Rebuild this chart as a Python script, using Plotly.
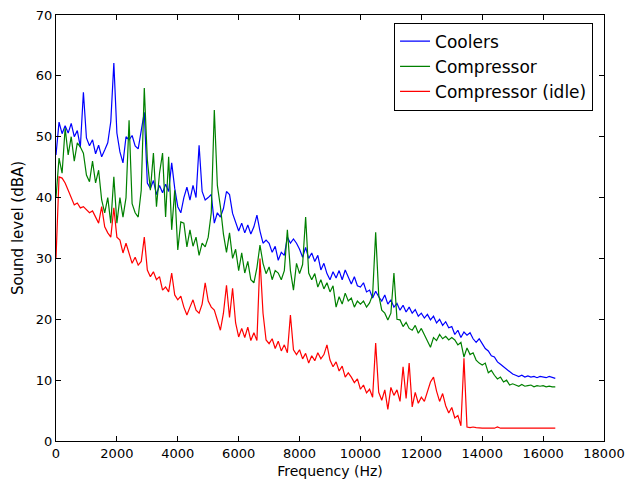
import plotly.graph_objects as go

# Frequency grid (Hz), one sample every 100 Hz from 0 to 16400
freq_step = 100
n_points = 165
frequency = [i * freq_step for i in range(n_points)]

coolers = [
    47, 52.4, 50.5, 51.8, 50.6, 52.2, 50, 51, 48.3, 57.3,
    49.8, 48.5, 49.5, 47.2, 48.6, 46.7, 47.8, 49, 52.5, 62.1,
    50.6, 47.5, 45.7, 50, 49.5, 50.2, 48.5, 48, 51, 54,
    42.4, 41.5, 42.8, 40.5, 42, 40.8, 42.2, 41, 45.7, 41.5,
    38.5, 37.5, 40, 41.7, 39.6, 42, 40, 48.6, 41, 39.6,
    40, 40.5, 35.8, 37.5, 36.8, 38.2, 41, 40.5, 37.4, 35.8,
    34.5, 35.8, 34.2, 35.5, 34, 35.2, 37.1, 34.5, 32.5, 33,
    32.5, 31, 32, 29.7, 31, 30.5, 33.5, 32.5, 33.2, 32.5,
    31.5, 30.2, 31.8, 30, 30.9, 29.5, 30.5, 28.1, 29.2, 27.5,
    26.5, 27.8, 26.8, 28, 26.5, 28.1, 27, 25.8, 27, 25.5,
    25.3, 26, 24.5, 24.8, 23.5, 24.6, 23.7, 23, 24, 22.5,
    23.2, 22, 22.6, 21.5, 22.3, 21.2, 22, 21, 21.6, 20.5,
    21, 20.2, 20.8, 19.9, 20.5, 19.4, 20, 19, 19.6, 18.6,
    18.8, 17.5, 18.2, 17, 17.9, 17.4, 17.8, 16.8, 16.2, 16.8,
    16, 15.2, 14.8, 14, 13.8, 13, 12.6, 12.2, 11.8, 11.4,
    11, 10.8, 10.6, 10.8, 10.5, 10.7, 10.5, 10.6, 10.4, 10.6,
    10.5, 10.4, 10.6, 10.4, 10.3,
]

compressor = [
    40, 46.5, 44, 51.4, 47, 50, 46, 49, 48.3, 47.3,
    43.7, 42.6, 46, 42.4, 44.5, 39.6, 37.5, 40, 35.8, 43.4,
    35.8, 40, 36.8, 40, 52.7, 39, 37.5, 36.8, 41.2, 58,
    46.2, 41.2, 47.3, 38.5, 44, 47.3, 36.8, 46.7, 34.7, 41.2,
    31.4, 36, 35.8, 31.9, 34.7, 32, 33.5, 30.5, 32.5, 31.9,
    33.5, 37.5, 54.4, 42, 38.5, 34, 31, 34.2, 30, 31.5,
    28, 30.9, 27.6, 29.5, 26.5, 26, 28.5, 32.2, 29.2, 27.5,
    28.6, 26.5, 28, 27.6, 26.5, 28, 34.7, 28, 24.8, 29.2,
    27.5, 29, 36.8, 27.6, 26.5, 27.5, 25.3, 26.5, 25, 26,
    24.5, 25.5, 22, 23.7, 22.5, 24.3, 23, 23.5, 22, 23,
    22.5, 23, 22, 22.7, 24, 34.3, 24, 21.5, 21, 19.9,
    21, 27.6, 20, 19.9, 18.8, 19.5, 18.5, 18.2, 19, 17.7,
    18.5, 17.5, 16.5, 15.4, 17, 16.5, 17.5, 16.8, 17.2, 16.6,
    17, 16.6, 15.8, 16.2, 13.8, 15.3, 14.2, 14.5, 13.3, 12.8,
    12.5, 12.8, 11.2, 11.6, 10.8, 10.2, 10.5, 9.7, 10, 9.2,
    9.4, 9.2, 9, 9.3, 9, 9.1, 9.2, 8.9, 9.1, 9,
    9.1, 8.9, 9, 8.9, 8.9,
]

compressor_idle = [
    30, 43.4, 43.2, 42.4, 41.2, 40.1, 38.8, 39.1, 38.3, 38.5,
    38, 37.5, 37.8, 36.8, 35.8, 38.5, 35.2, 34.2, 33.5, 38.3,
    33.5, 33, 30.9, 32.5, 30.9, 29.2, 30.2, 28.9, 29.5, 33.5,
    28.1, 27, 27.8, 26.5, 27, 24.8, 25.3, 24.5, 27.6, 24,
    23.2, 23.8, 22, 20.7, 22, 23.2, 21.5, 21, 22.5, 26,
    23, 22, 21.5, 20, 18.2, 21, 25.6, 20.3, 25.1, 19.4,
    17.1, 18.5, 17, 18.7, 16.5, 17.8, 16.5, 30, 21, 16.6,
    16, 16.8, 15.2, 16.4, 14.8, 15.8, 14.5, 20.7, 15, 14.2,
    15, 13.5, 14.4, 12.8, 14, 13.2, 14.5, 13.5, 14.2, 15.8,
    13.3, 12.2, 13, 11.5, 12.3, 10.5, 11.2, 10.5, 9.6, 10.2,
    8.5, 9.2, 7.9, 8.5, 7.2, 16.1, 8, 6.7, 8.4, 5.2,
    8.8, 7.5, 8.4, 6.5, 12.2, 7, 12.8, 5.6, 8, 6.2,
    7.2, 6.5, 8.2, 9.7, 10.5, 8.2, 6.5, 7.8, 5.8, 4.6,
    5.5, 3.8, 4.2, 2.5, 13.6, 2.3, 2.2, 2.3, 2.2, 2.1,
    2.1, 2.1, 2.1, 2.1, 2.1, 2.3, 2.1, 2.1, 2.1, 2.1,
    2.1, 2.1, 2.1, 2.1, 2.1, 2.1, 2.1, 2.1, 2.1, 2.1,
    2.1, 2.1, 2.1, 2.1, 2.1,
]

series_names = ["Coolers", "Compressor", "Compressor (idle)"]
series_values = [coolers, compressor, compressor_idle]
series_colors = ["#0000ff", "#008000", "#ff0000"]

x_tick_values = list(range(0, 18001, 2000))
x_tick_labels = [str(v) for v in x_tick_values]
y_tick_values = list(range(0, 71, 10))
y_tick_labels = [str(v) for v in y_tick_values]

fig = go.Figure()
for name, vals, color in zip(series_names, series_values, series_colors):
    fig.add_trace(go.Scatter(
        x=frequency, y=vals, mode="lines", name=name,
        line=dict(color=color, width=1.2),
    ))

axis_common = dict(
    showline=True, linecolor="black", linewidth=1, mirror="ticks",
    ticks="inside", ticklen=5, tickcolor="black", tickwidth=1,
    showgrid=False, zeroline=False, automargin=False,
    tickfont=dict(family="DejaVu Sans", size=13, color="black"),
)

fig.update_layout(
    width=627, height=483,
    margin=dict(l=56, r=23, t=15, b=42),
    paper_bgcolor="white", plot_bgcolor="white",
    font=dict(family="DejaVu Sans", color="black"),
    xaxis=dict(range=[0, 18000], tickvals=x_tick_values, ticktext=x_tick_labels,
               title=dict(text="Frequency (Hz)", font=dict(size=14), standoff=6),
               **axis_common),
    yaxis=dict(range=[0, 70], tickvals=y_tick_values, ticktext=y_tick_labels,
               title=dict(text="Sound level (dBA)", font=dict(size=15), standoff=8),
               **axis_common),
    legend=dict(
        x=0.98, y=0.982, xanchor="right", yanchor="top",
        bgcolor="white", bordercolor="black", borderwidth=1,
        font=dict(family="DejaVu Sans", size=17, color="black"),
        itemwidth=30, tracegroupgap=0,
    ),
    showlegend=True,
)

fig.write_html("out.html")
